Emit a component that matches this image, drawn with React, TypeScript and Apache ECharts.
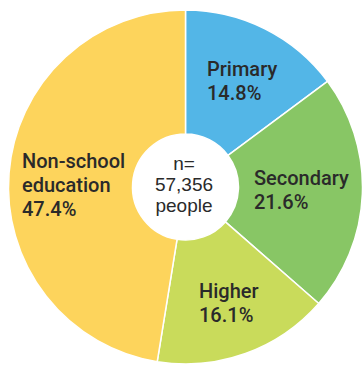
import React, { useEffect, useRef } from "react";
import * as echarts from "echarts";

// Share of people by type of education received
const categories = ["Primary", "Secondary", "Higher", "Non-school\neducation"];
const shares = [14.8, 21.6, 16.1, 47.4];
const sliceColors = ["#53b6e7", "#88c665", "#c9db5b", "#fdd45c"];
const sampleSize = "57,356";

// Left edge / vertical middle of each slice's label block
const labelAnchors = [
  { x: 207, y: 81 },
  { x: 254, y: 190 },
  { x: 199, y: 303 },
  { x: 22, y: 185 },
];

export default function App() {
  const ref = useRef<HTMLDivElement>(null);

  useEffect(() => {
    if (!ref.current) return;
    const chart = echarts.init(ref.current, null, { renderer: "svg" });
    chart.setOption({
      animation: false,
      textStyle: { fontFamily: "Liberation Sans" },
      series: [
        {
          type: "pie",
          center: [185.5, 187],
          radius: [53, 177],
          startAngle: 90,
          clockwise: true,
          silent: true,
          itemStyle: { borderColor: "#ffffff", borderWidth: 1.5 },
          label: {
            show: true,
            position: "inside",
            formatter: (p: any) => `${p.name}\n${p.value.toFixed(1)}%`,
            color: "#2a2a2a",
            fontFamily: "Roboto",
            fontSize: 20,
            fontWeight: 500,
            lineHeight: 24,
            align: "left",
          },
          labelLine: { show: false },
          labelLayout: (params: any) => {
            const a = labelAnchors[params.dataIndex];
            return { x: a.x, y: a.y, align: "left", verticalAlign: "middle" };
          },
          data: categories.map((name, i) => ({
            name,
            value: shares[i],
            itemStyle: { color: sliceColors[i] },
          })),
        },
      ],
      graphic: [
        {
          type: "text",
          x: 184,
          y: 184,
          style: {
            text: `n=\n${sampleSize}\npeople`,
            fill: "#2a2a2a",
            font: "19px 'Liberation Sans'",
            lineHeight: 21,
            align: "center",
            verticalAlign: "middle",
          },
        },
      ],
    });
    return () => chart.dispose();
  }, []);

  return (
    <div
      ref={ref}
      style={{ position: "absolute", left: 0, top: 0, width: 363, height: 365 }}
    />
  );
}
